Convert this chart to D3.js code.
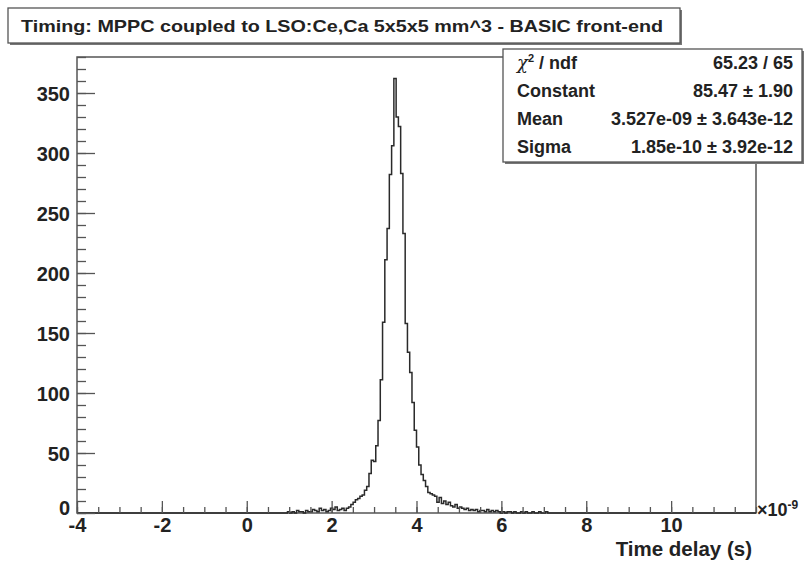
<!DOCTYPE html>
<html lang="en">
<head>
    <meta charset="UTF-8">
    <title>Timing histogram</title>
    <style>
        body { margin: 0; background: #fff; }
        svg text { font-family: "Liberation Sans", Arial, Helvetica, sans-serif; font-weight: bold; fill: #222; }
        .axis path { display: none; }
        .axis line { stroke: #555; stroke-width: 1.3; }
    </style>
</head>
<body>
    <script src="https://d3js.org/d3.v7.min.js"></script>
    <script>

        var width = 806,
            height = 565;

        // histogram definition (time in ns, 300 bins from -4 to 12)
        var xLow = -4, xHigh = 12, nBins = 300;
        var firstBin = 93;   // index of first entry in counts
        var counts = [
            1, 0, 1, 0, 2, 1, 1, 0, 2, 1,
            1, 3, 2, 1, 4, 2, 3, 1, 2, 4,
            3, 5, 2, 3, 4, 2, 4, 5, 7, 9,
            11, 12, 14, 15, 19, 22, 33, 44, 43, 56,
            77, 111, 159, 211, 237, 282, 306, 362, 330, 322,
            283, 233, 158, 134, 117, 92, 69, 55, 40, 32,
            27, 22, 17, 16, 15, 14, 9, 13, 8, 10,
            7, 9, 6, 5, 7, 4, 5, 4, 3, 4,
            2, 3, 2, 3, 1, 2, 2, 1, 3, 1,
            2, 1, 2, 1, 0, 1, 0, 1, 1, 0,
            1, 0, 0, 1, 0, 1, 0, 0, 1, 0,
            0, 1, 0, 0, 1
        ];

        var yMajor = [0, 50, 100, 150, 200, 250, 300, 350];
        var xMajor = [-4, -2, 0, 2, 4, 6, 8, 10];

        var title = "Timing: MPPC coupled to LSO:Ce,Ca 5x5x5 mm^3 - BASIC front-end";
        var statNames = ["ndf", "Constant", "Mean", "Sigma"];
        var statValues = ["65.23 / 65", "85.47 \u00b1 1.90", "3.527e-09 \u00b1 3.643e-12", "1.85e-10 \u00b1 3.92e-12"];

        var margin = {left: 77, right: 756, top: 57, bottom: 513};

        var x = d3.scaleLinear()
            .domain([xLow, xHigh])
            .range([margin.left, margin.right]);

        var y = d3.scaleLinear()
            .domain([0, 380])
            .range([margin.bottom, margin.top]);

        var svg = d3.select("body").append("svg")
            .attr("width", width)
            .attr("height", height);

        // frame
        svg.append("rect")
            .attr("x", margin.left)
            .attr("y", margin.top)
            .attr("width", margin.right - margin.left)
            .attr("height", margin.bottom - margin.top)
            .attr("fill", "none")
            .attr("stroke", "#555")
            .attr("stroke-width", 1.5);

        // histogram outline
        var binWidth = (xHigh - xLow) / nBins;
        var pts = [];
        d3.range(nBins).forEach(function(i) {
            var c = (i >= firstBin && i < firstBin + counts.length) ? counts[i - firstBin] : 0;
            var x0 = xLow + i * binWidth;
            pts.push([x0, c], [x0 + binWidth, c]);
        });

        svg.append("path")
            .datum(pts)
            .attr("fill", "none")
            .attr("stroke", "#2a2a2a")
            .attr("stroke-width", 1.5)
            .attr("d", d3.line()
                .x(function(d) { return x(d[0]); })
                .y(function(d) { return y(d[1]); }));

        // y axis
        svg.append("g")
            .attr("class", "axis")
            .attr("transform", "translate(" + margin.left + ",0)")
            .call(d3.axisLeft(y).ticks(38).tickSize(-9).tickFormat(""));

        var yAxis = svg.append("g")
            .attr("class", "axis")
            .attr("transform", "translate(" + margin.left + ",0)")
            .call(d3.axisLeft(y).tickValues(yMajor).tickSize(-18).tickPadding(7)
                .tickFormat(function(d) { return String(d); }));
        yAxis.selectAll("text")
            .style("font-size", "20px")
            .attr("fill", "#222")
            .attr("dy", function(d) { return d === 0 ? "0.05em" : "0.36em"; });

        // x axis
        svg.append("g")
            .attr("class", "axis")
            .attr("transform", "translate(0," + margin.bottom + ")")
            .call(d3.axisBottom(x).ticks(32).tickSize(-6).tickFormat(""));

        var xAxis = svg.append("g")
            .attr("class", "axis")
            .attr("transform", "translate(0," + margin.bottom + ")")
            .call(d3.axisBottom(x).tickValues(xMajor).tickSize(-12).tickPadding(5)
                .tickFormat(function(d) { return String(d); }));
        xAxis.selectAll("text")
            .style("font-size", "20px")
            .attr("fill", "#222");

        // exponent
        var ex = svg.append("text")
            .attr("x", 757)
            .attr("y", 516)
            .style("font-size", "18px");
        ex.append("tspan").text("\u00d710");
        ex.append("tspan").attr("dy", -7).style("font-size", "12px").text("-9");

        svg.append("text")
            .attr("x", 752)
            .attr("y", 556)
            .attr("text-anchor", "end")
            .style("font-size", "20.5px")
            .text("Time delay (s)");

        // stats box
        var sb = {x: 503, y: 49, w: 299, h: 113};
        svg.append("rect")
            .attr("x", sb.x + 2).attr("y", sb.y + 2)
            .attr("width", sb.w).attr("height", sb.h)
            .attr("fill", "#777");
        svg.append("rect")
            .attr("x", sb.x).attr("y", sb.y)
            .attr("width", sb.w).attr("height", sb.h)
            .attr("fill", "#fff")
            .attr("stroke", "#555")
            .attr("stroke-width", 1.3);

        var rowY = [68.5, 96.5, 125, 153];
        statNames.forEach(function(name, i) {
            var t = svg.append("text")
                .attr("x", 517)
                .attr("y", rowY[i])
                .style("font-size", "18px");
            if (i === 0) {
                t.append("tspan").style("font-style", "italic").style("font-family", "DejaVu Serif").style("font-weight", "normal").text("\u03c7");
                t.append("tspan").attr("dy", -7).style("font-size", "11px").text("2");
                t.append("tspan").attr("dy", 7).text(" / " + name);
            } else {
                t.text(name);
            }
            svg.append("text")
                .attr("x", 793)
                .attr("y", rowY[i])
                .attr("text-anchor", "end")
                .style("font-size", "18px")
                .text(statValues[i]);
        });

        // title box
        svg.append("rect")
            .attr("x", 10).attr("y", 10)
            .attr("width", 672).attr("height", 35)
            .attr("fill", "#777");
        svg.append("rect")
            .attr("x", 8).attr("y", 8)
            .attr("width", 672).attr("height", 35)
            .attr("fill", "#fff")
            .attr("stroke", "#555")
            .attr("stroke-width", 1.3);
        svg.append("text")
            .attr("x", 21)
            .attr("y", 32)
            .attr("textLength", 642)
            .attr("lengthAdjust", "spacingAndGlyphs")
            .style("font-size", "17px")
            .text(title);

    </script>
</body>
</html>
